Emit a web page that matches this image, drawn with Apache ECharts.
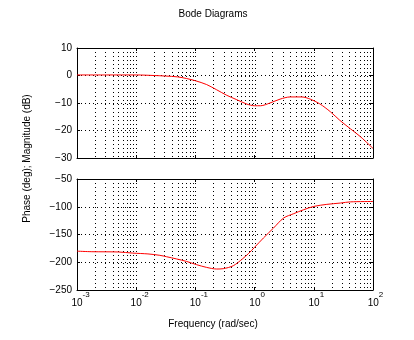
<!DOCTYPE html>
<html>
<head>
<meta charset="utf-8">
<script src="https://cdn.jsdelivr.net/npm/echarts@6/dist/echarts.min.js"></script>
<style>
html,body{margin:0;padding:0;background:#fff;}
#chart{width:414px;height:340px;}
</style>
</head>
<body>
<div id="chart"></div>
<script>
// ---- data ----
const magFreq = [0.001, 0.00316, 0.01, 0.02, 0.0316, 0.05, 0.0708, 0.1, 0.155, 0.229, 0.339, 0.5, 0.741, 1, 1.26, 1.82, 2.69, 3.98, 6.31, 8.71, 12.6, 19.1, 27.5, 41.7, 61.7, 100];
const magDb   = [0.2, 0.2, 0.2, 0.0, -0.2, -0.5, -1.1, -1.9, -3.3, -5.2, -7.2, -8.8, -10.4, -11.0, -11.0, -10.0, -8.6, -7.8, -7.8, -8.6, -10.3, -13.2, -16.3, -19.4, -22.3, -26.5];
const phaseFreq = [0.001, 0.00178, 0.005, 0.0087, 0.0158, 0.0251, 0.0324, 0.0479, 0.0708, 0.105, 0.155, 0.229, 0.295, 0.437, 0.631, 0.794, 1, 1.41, 2.09, 3.09, 4.57, 6.76, 10, 16.6, 28.2, 41.7, 100];
const phaseDeg  = [-180, -181, -181.5, -183.5, -185, -187.5, -190, -194, -198.5, -204.4, -209.3, -212.2, -211.6, -206.2, -193.5, -184, -173, -156.3, -138.3, -120.3, -112.5, -105.3, -99.4, -95.7, -93.3, -91.2, -90.5];
const magTicks = [-30, -20, -10, 0, 10];
const phaseTicks = [-250, -200, -150, -100, -50];
const freqExponents = [-3, -2, -1, 0, 1, 2];
const decadeMultipliers = [1, 2, 3, 4, 5, 6, 7, 8, 9];

const titleText = 'Bode Diagrams';
const xTitle = 'Frequency (rad/sec)';
const yTitle = 'Phase (deg); Magnitude (dB)';

// ---- build ----
const FONT = 'Liberation Sans';
const fMin = Math.pow(10, freqExponents[0]);
const fMax = Math.pow(10, freqExponents[freqExponents.length - 1]);
const gridFreqs = [];
for (let e = freqExponents[0]; e < freqExponents[freqExponents.length - 1]; e++) {
  decadeMultipliers.forEach(m => {
    if (!(m === 1 && e === freqExponents[0])) gridFreqs.push(m * Math.pow(10, e));
  });
}
const magData = magFreq.map((f, i) => [f, magDb[i]]);
const phaseData = phaseFreq.map((f, i) => [f, phaseDeg[i]]);

const dotted = {color: '#000', width: 1, type: [1, 3]};

function xAx(gridIndex, pos, labels) {
  return {
    type: 'log', logBase: 10, gridIndex: gridIndex, position: pos,
    min: fMin, max: fMax,
    axisLine: {show: true, onZero: false, lineStyle: {color: '#000', width: 1}},
    axisTick: {show: true, inside: true, length: 3, lineStyle: {color: '#000'}},
    splitLine: {show: false},
    axisLabel: labels ? {
      show: true, margin: 1, color: '#000', fontFamily: FONT, fontSize: 10,
      formatter: function (v) {
        const s = String(Math.round(Math.log10(v)));
        return '{p' + s.length + '|}{b|10}{s|' + s + '}';
      },
      rich: {
        p1: {width: 5, height: 16, verticalAlign: 'top'},
        p2: {width: 7, height: 16, verticalAlign: 'top'},
        b: {fontSize: 10, lineHeight: 10, padding: [7, 0, 0, 0], verticalAlign: 'top', fontFamily: FONT, color: '#000'},
        s: {fontSize: 8, lineHeight: 8, padding: [0, 0, 0, 0], verticalAlign: 'top', fontFamily: FONT, color: '#000'}
      }
    } : {show: false}
  };
}
function yAx(gridIndex, pos, ticks, labels) {
  return {
    type: 'value', gridIndex: gridIndex, position: pos,
    min: ticks[0], max: ticks[ticks.length - 1], interval: ticks[1] - ticks[0],
    axisLine: {show: true, onZero: false, lineStyle: {color: '#000', width: 1}},
    axisTick: {show: true, inside: true, length: 3, lineStyle: {color: '#000'}},
    splitLine: {show: labels, lineStyle: dotted},
    axisLabel: labels ? {
      show: true, margin: 5, color: '#000', fontSize: 10, fontFamily: FONT,
      formatter: v => String(v).replace('-', '\u2212')
    } : {show: false}
  };
}
function gridSeries(xi, yi) {
  return {
    type: 'custom', xAxisIndex: xi, yAxisIndex: yi, z: 1, silent: true,
    data: gridFreqs.map(f => [f]),
    encode: {x: 0},
    renderItem: function (params, api) {
      const cs = params.coordSys;
      const x = Math.round(api.coord([api.value(0), 0])[0]) + 0.5;
      return {
        type: 'line', silent: true,
        shape: {x1: x, y1: cs.y, x2: x, y2: cs.y + cs.height},
        style: {stroke: '#000', lineWidth: 1, lineDash: [1, 3]}
      };
    }
  };
}
function curve(xi, yi, data) {
  return {
    type: 'line', xAxisIndex: xi, yAxisIndex: yi, data: data, z: 3,
    showSymbol: false, smooth: 0.3, color: '#ff0000',
    lineStyle: {color: '#ff0000', width: 1}
  };
}

const chart = echarts.init(document.getElementById('chart'), null, {renderer: 'canvas'});
chart.setOption({
  animation: false,
  backgroundColor: '#fff',
  textStyle: {fontFamily: FONT},
  grid: [
    {left: 77, top: 48, width: 296, height: 110},
    {left: 77, top: 179, width: 296, height: 111}
  ],
  xAxis: [xAx(0, 'bottom', false), xAx(0, 'top', false), xAx(1, 'bottom', true), xAx(1, 'top', false)],
  yAxis: [yAx(0, 'left', magTicks, true), yAx(0, 'right', magTicks, false), yAx(1, 'left', phaseTicks, true), yAx(1, 'right', phaseTicks, false)],
  series: [
    gridSeries(0, 0),
    gridSeries(2, 2),
    curve(0, 0, magData),
    curve(2, 2, phaseData)
  ],
  graphic: [
    {type: 'text', x: 213, y: 14, style: {text: titleText, fontSize: 10, fontFamily: FONT, fill: '#000', textAlign: 'center', textVerticalAlign: 'middle'}},
    {type: 'text', x: 213, y: 324, style: {text: xTitle, fontSize: 10, fontFamily: FONT, fill: '#000', textAlign: 'center', textVerticalAlign: 'middle'}},
    {type: 'text', x: 27, y: 158.5, rotation: Math.PI / 2, style: {text: yTitle, fontSize: 10, fontFamily: FONT, fill: '#000', textAlign: 'center', textVerticalAlign: 'middle'}}
  ]
});
</script>
</body>
</html>
